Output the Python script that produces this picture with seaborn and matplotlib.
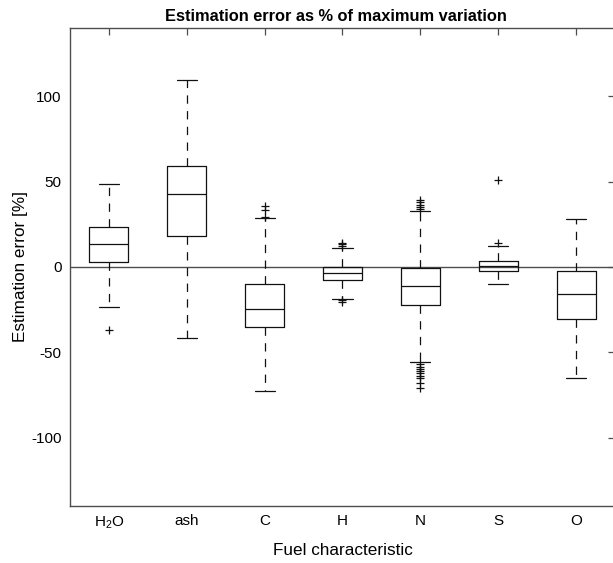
import matplotlib
matplotlib.use("Agg")
import matplotlib.pyplot as plt
import numpy as np
import pandas as pd
import seaborn as sns

# values (percent)
categories = ['H$_2$O', 'ash', 'C', 'H', 'N', 'S', 'O']
whisker_low = [-23.5, -41.6, -72.4, -18.5, -55.7, -9.8, -64.8]
q1 = [2.7, 18.2, -35.2, -7.4, -22.5, -2.5, -30.3]
median = [13.7, 42.6, -24.5, -3.5, -11.1, 0.4, -15.6]
q3 = [23.6, 59.4, -9.7, 0.0, -0.4, 3.7, -2.1]
whisker_high = [48.6, 109.8, 28.9, 11.3, 32.6, 12.3, 27.9]
outliers = [
    [-36.8],
    [],
    [29.3, 33.6, 35.7],
    [12.5, 13.5, 14.0, -19.5, -20.5],
    [33.8, 35.1, 36.3, 37.8, 39.4,
     -57.0, -58.3, -59.5, -60.8, -62.2, -63.6, -65.2, -68.0, -71.0],
    [14.1, 51.2],
    [],
]

sns.set_style("white")
plt.rcParams['font.family'] = ['Liberation Sans', 'DejaVu Sans']
plt.rcParams['mathtext.default'] = 'regular'
plt.rcParams['lines.scale_dashes'] = False
plt.rcParams['axes.unicode_minus'] = False
plt.rcParams['text.color'] = 'black'
plt.rcParams['axes.labelcolor'] = 'black'
plt.rcParams['xtick.color'] = 'black'
plt.rcParams['ytick.color'] = 'black'

fig = plt.figure(figsize=(6.13, 5.63), dpi=100)
ax = fig.add_axes([70 / 613, 57 / 563, 545 / 613, 478 / 563])

stats = []
for i, name in enumerate(categories):
    stats.append({'label': name, 'whislo': whisker_low[i], 'q1': q1[i], 'med': median[i],
                  'q3': q3[i], 'whishi': whisker_high[i], 'fliers': []})

pos = np.arange(1, len(categories) + 1)
ink = '#111111'
ax.bxp(stats, positions=pos, widths=0.5, showfliers=False,
       boxprops=dict(color=ink, linewidth=0.9),
       medianprops=dict(color=ink, linewidth=0.9),
       whiskerprops=dict(color=ink, linewidth=0.9, linestyle=(0, (6, 5.3))),
       capprops=dict(color=ink, linewidth=0.9), capwidths=0.26)

ax.axhline(0, color='#4d4d4d', linewidth=1.0, zorder=0.5)

fl = pd.DataFrame([(pos[i], v) for i, vals in enumerate(outliers) for v in vals],
                  columns=['pos', 'value'])
sns.scatterplot(data=fl, x='pos', y='value', marker='+', color=ink, s=28,
                linewidth=0.9, ax=ax, zorder=3)

ax.set_xlim(0.5, 7.5)
ax.set_ylim(-140, 140)
ax.set_xticks(pos)
ax.set_xticklabels(categories)
ax.set_yticks([-100, -50, 0, 50, 100])
ax.tick_params(direction='in', length=5, width=0.9, color='#4d4d4d',
               labelcolor='black', top=True, right=True, labelsize=11, pad=6)
for s in ax.spines.values():
    s.set_color('#4d4d4d')
    s.set_linewidth(1.0)

ax.set_title('Estimation error as % of maximum variation', fontsize=11.8,
             fontweight='bold', pad=5, x=0.488)
ax.set_xlabel('Fuel characteristic', fontsize=12.3, labelpad=9)
ax.set_ylabel('Estimation error [%]', fontsize=12.3, labelpad=2)

fig.savefig('out.png', dpi=100)
